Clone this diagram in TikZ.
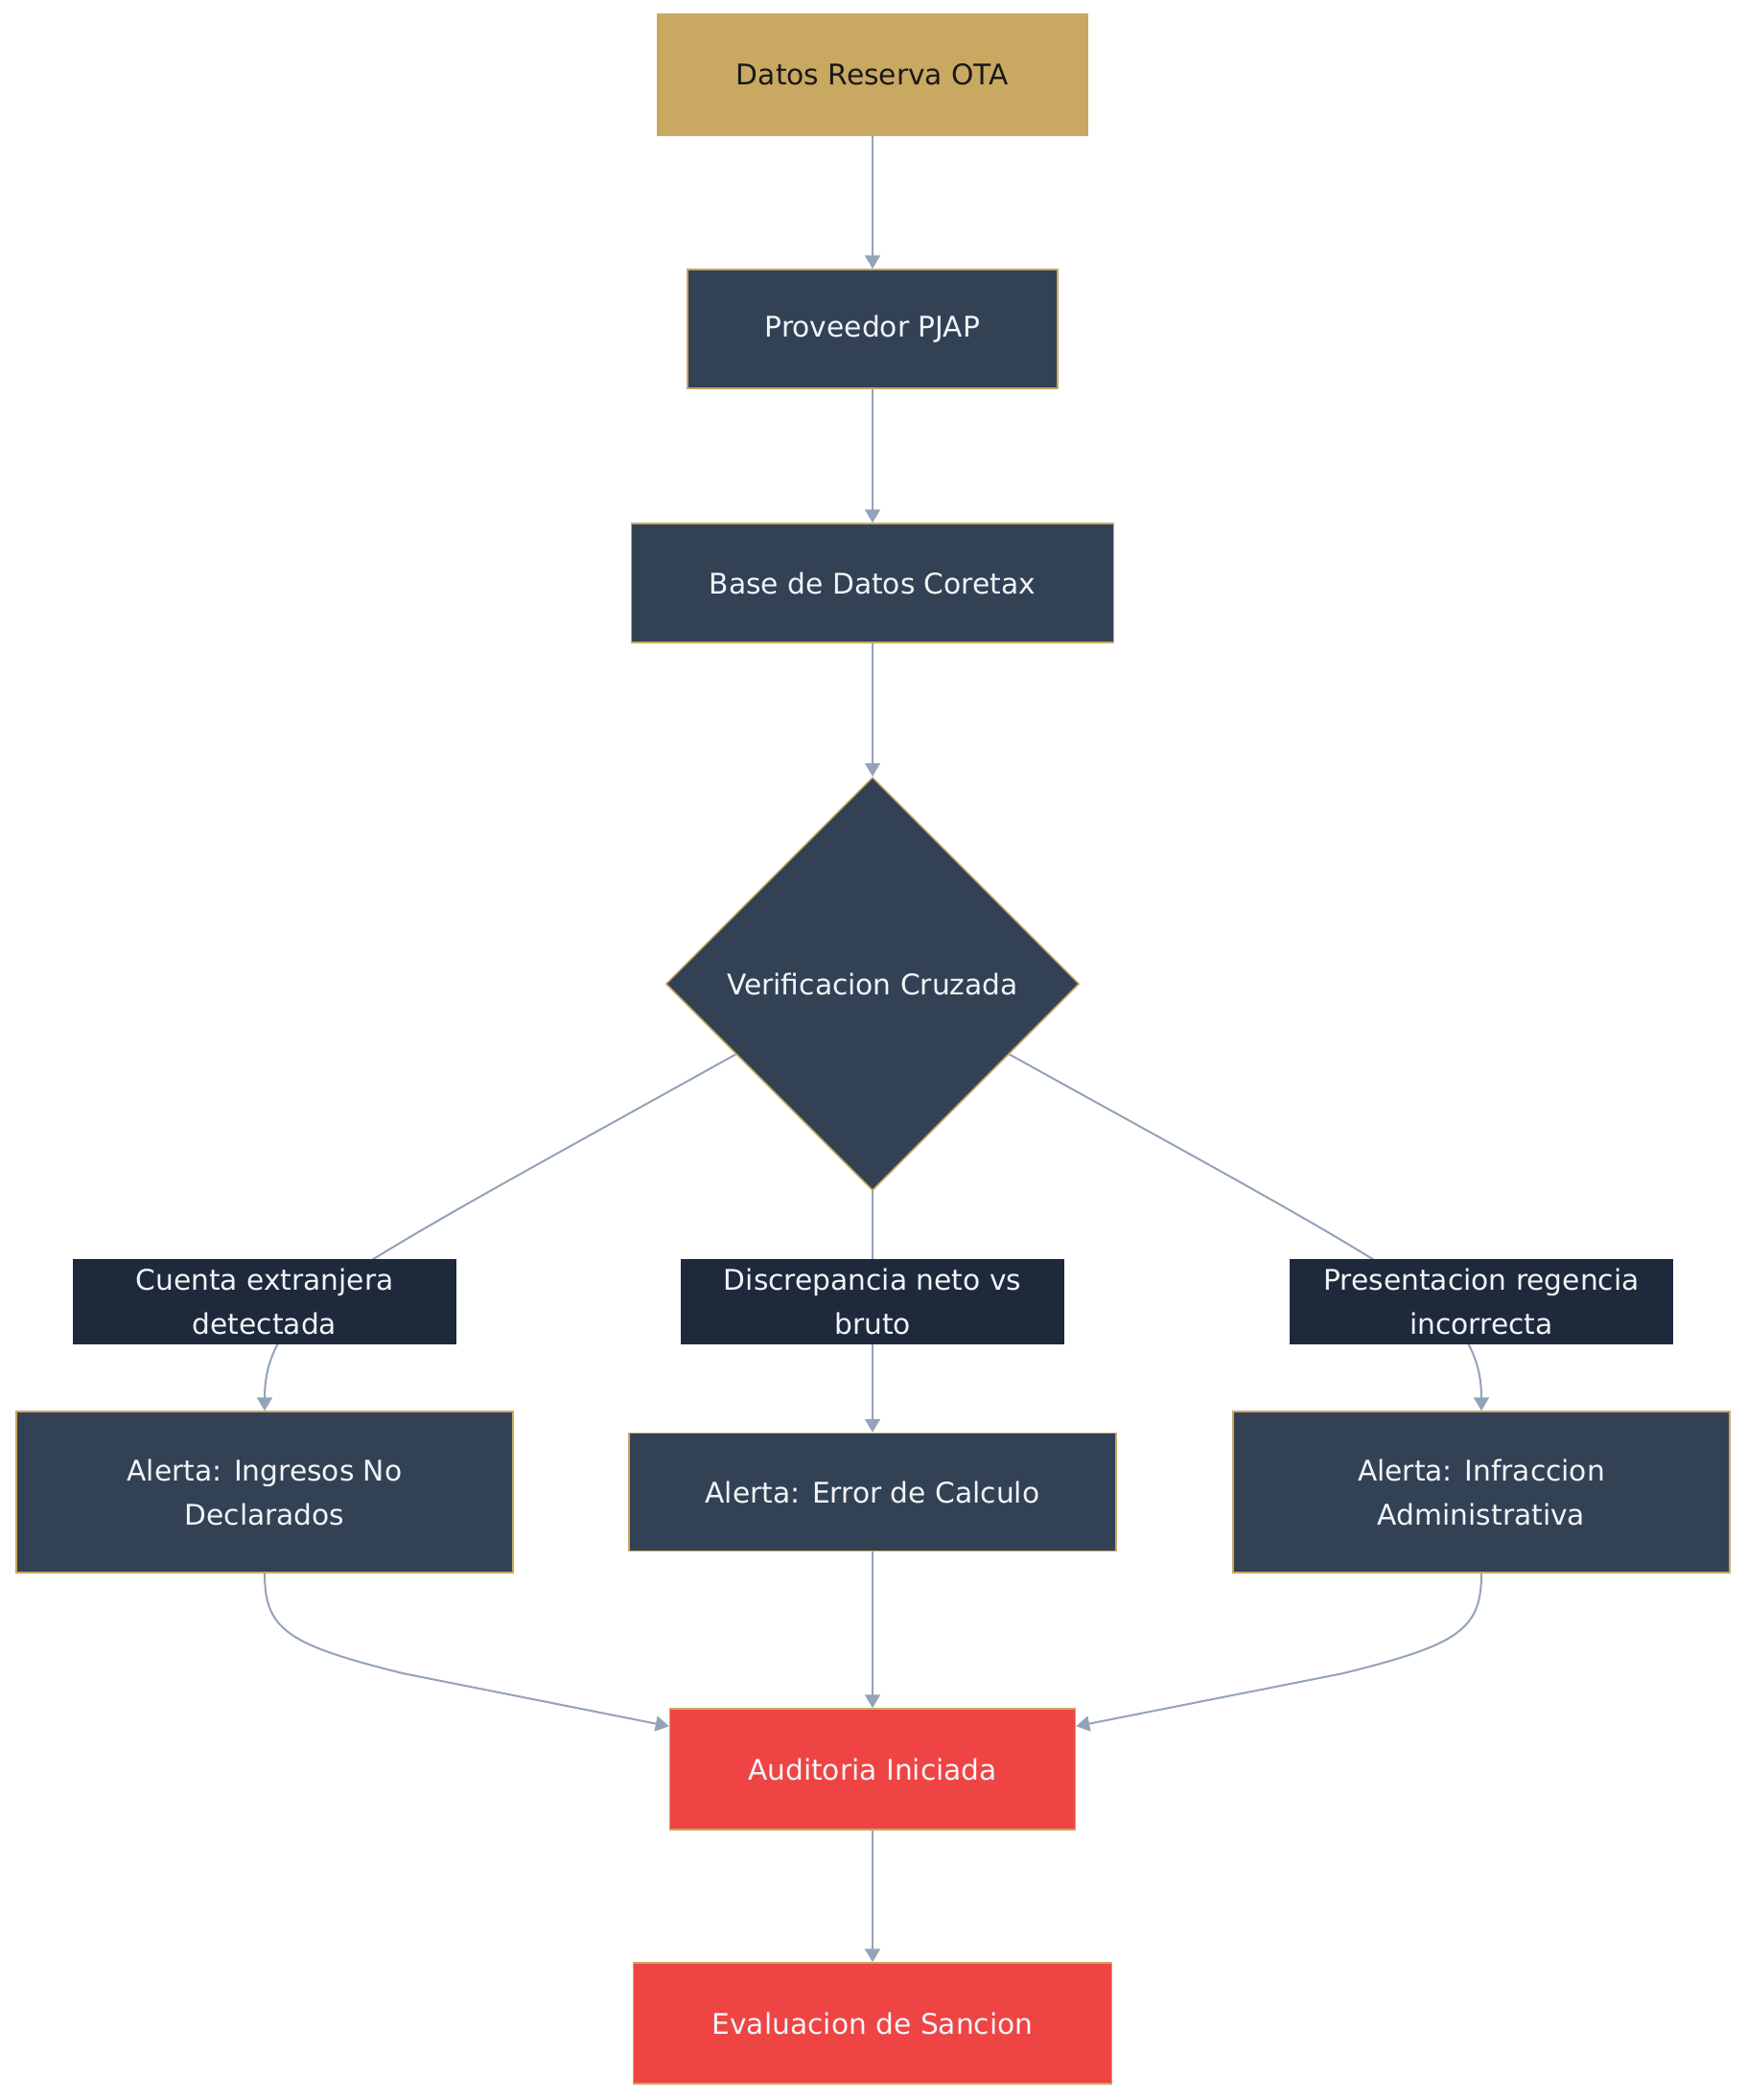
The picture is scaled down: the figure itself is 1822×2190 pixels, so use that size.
\documentclass[tikz,border=0pt]{standalone}
\usepackage{fontspec}
\setmainfont{DejaVu Sans}
\usetikzlibrary{shapes.geometric,arrows.meta,calc}
\definecolor{gold}{HTML}{C9A862}
\definecolor{slatebox}{HTML}{334155}
\definecolor{navy}{HTML}{1E293B}
\definecolor{redbox}{HTML}{EF4444}
\definecolor{edgec}{HTML}{94A3B8}
\definecolor{txt}{HTML}{F1F5F9}
\pgfdeclarelayer{bg}
\pgfdeclarelayer{paper}
\pgfsetlayers{paper,bg,main}
\begin{document}
\begin{tikzpicture}[x=1pt,y=-1pt,
  font=\fontsize{29.7}{46}\selectfont,
  box/.style={draw=gold, line width=1.5pt, inner sep=0pt, text=txt, align=center, fill=slatebox},
  startbox/.style={box, fill=gold, text=black!90},
  rednode/.style={box, fill=redbox},
  decision/.style={box, diamond, aspect=1, minimum width=431pt, minimum height=431pt},
  elabel/.style={fill=navy, text=txt, inner sep=0pt, align=center, minimum width=400pt, minimum height=89pt},
  edge/.style={draw=edgec, line width=2pt, -{Triangle[width=16pt,length=14pt]}}
]
\useasboundingbox (0,0) rectangle (1822,2190);
\begin{pgfonlayer}{paper}
\fill[white] (0,0) rectangle (1822,2190);
\end{pgfonlayer}

\node[startbox, minimum width=449pt, minimum height=127pt] (ota) at (910,78) {Datos Reserva OTA};
\node[box, minimum width=386pt, minimum height=124pt] (pjap) at (910,343) {Proveedor PJAP};
\node[box, minimum width=503pt, minimum height=124pt] (core) at (910,608) {Base de Datos Coretax};
\node[decision] (dia) at (910,1026) {Verificacion Cruzada};

\node[box, minimum width=518pt, minimum height=168pt] (al) at (276,1556) {Alerta: Ingresos No\\Declarados};
\node[box, minimum width=508pt, minimum height=123pt] (am) at (910,1556) {Alerta: Error de Calculo};
\node[box, minimum width=518pt, minimum height=168pt] (ar) at (1545,1556) {Alerta: Infraccion\\Administrativa};

\node[rednode, minimum width=423pt, minimum height=126pt] (aud) at (910,1845) {Auditoria Iniciada};
\node[rednode, minimum width=499pt, minimum height=126pt] (eva) at (910,2110) {Evaluacion de Sancion};

\node[elabel] (ll) at (276,1357) {Cuenta extranjera\\detectada};
\node[elabel] (lm) at (910,1357) {Discrepancia neto vs\\bruto};
\node[elabel] (lr) at (1545,1357) {Presentacion regencia\\incorrecta};

\begin{pgfonlayer}{bg}
\draw[edge] (ota) -- (pjap);
\draw[edge] (pjap) -- (core);
\draw[edge] (core) -- (dia.north);
\draw[edge] ($(dia.west)!0.34!(dia.south)$) .. controls (560,1215) and (420,1290) .. (340,1345) .. controls (290,1385) and (276,1420) .. (al.north);
\draw[edge] (dia.south) -- (am.north);
\draw[edge] ($(dia.east)!0.34!(dia.south)$) .. controls (1261,1215) and (1401,1290) .. (1481,1345) .. controls (1531,1385) and (1545,1420) .. (ar.north);
\draw[edge] (al.south) .. controls (276,1700) and (300,1715) .. (420,1745) -- ($(aud.north west)+(0,19)$);
\draw[edge] (am.south) -- (aud.north);
\draw[edge] (ar.south) .. controls (1545,1700) and (1521,1715) .. (1401,1745) -- ($(aud.north east)+(0,19)$);
\draw[edge] (aud) -- (eva);
\end{pgfonlayer}
\end{tikzpicture}
\end{document}
